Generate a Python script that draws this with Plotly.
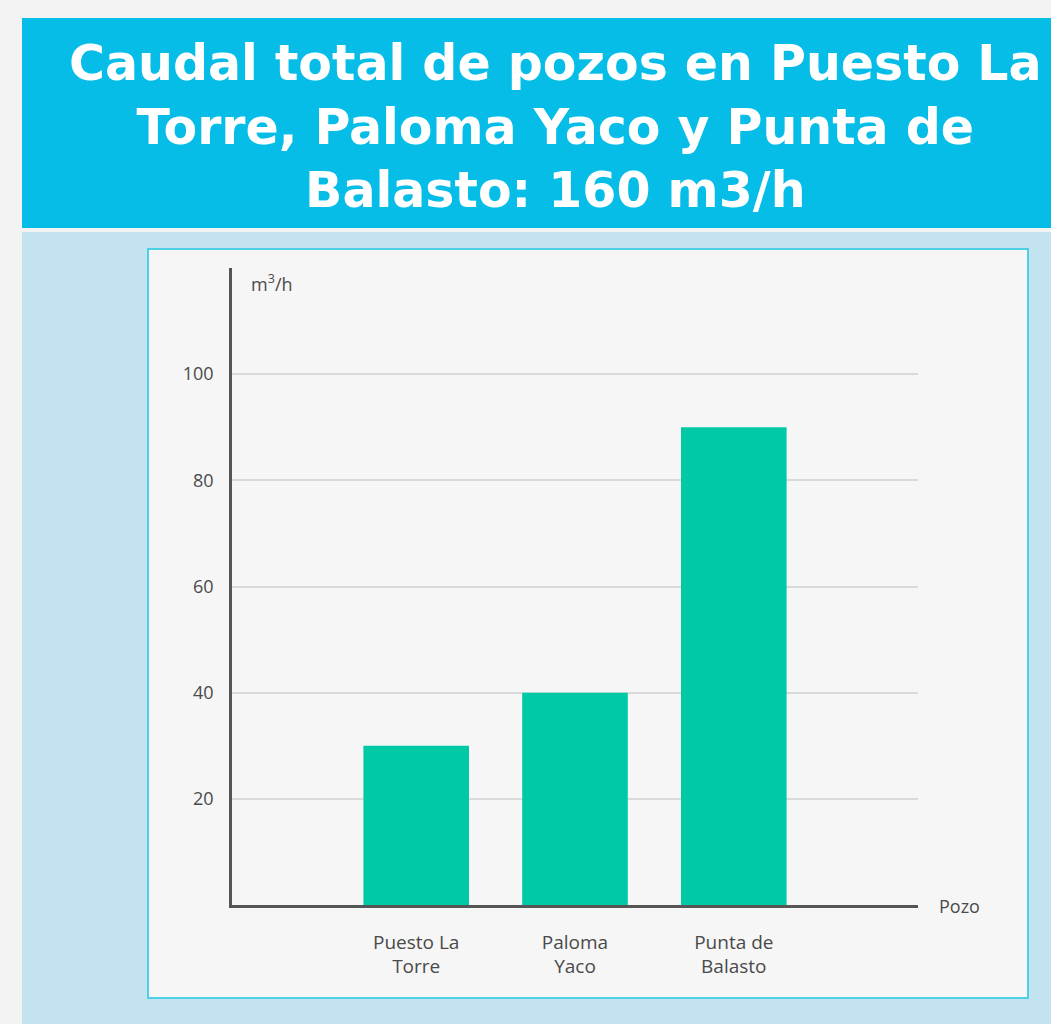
import plotly.graph_objects as go

# ---- data ----
categories = ["Puesto La Torre", "Paloma Yaco", "Punta de Balasto"]
tick_labels = ["Puesto La<br>Torre", "Paloma<br>Yaco", "Punta de<br>Balasto"]
caudal = [30, 40, 90]
y_ticks = [20, 40, 60, 80, 100]
title_text = "Caudal total de pozos en Puesto La<br>Torre, Paloma Yaco y Punta de<br>Balasto: 160 m3/h"

W, H = 1051, 1024

def px(x):
    return x / W

def py(y):
    return 1 - y / H

fig = go.Figure()
fig.add_trace(go.Bar(
    x=list(range(len(categories))),
    y=caudal,
    width=0.665,
    marker=dict(color="#00C9A6", line=dict(width=0)),
    hovertext=categories,
    showlegend=False,
))

shapes = [
    # title band
    dict(type="rect", xref="paper", yref="paper", x0=px(22), x1=px(1051), y0=py(228), y1=py(18),
         fillcolor="#05BDE7", line=dict(width=0), layer="below"),
    # light blue panel
    dict(type="rect", xref="paper", yref="paper", x0=px(22), x1=px(1051), y0=py(1024), y1=py(232),
         fillcolor="#C4E3F1", line=dict(width=0), layer="below"),
    # inner chart card
    dict(type="rect", xref="paper", yref="paper", x0=px(148), x1=px(1028), y0=py(998), y1=py(249),
         fillcolor="#F6F6F6", line=dict(color="#4DCFE6", width=2), layer="below"),
]

label_font = dict(family="Open Sans", size=18, color="#4A4A4A")

annotations = [
    dict(text="<b>" + title_text + "</b>", xref="paper", yref="paper", x=px(555), y=py(127),
         xanchor="center", yanchor="middle", showarrow=False, align="center",
         font=dict(family="DejaVu Sans", size=49, color="white")),
    dict(text="m<sup>3</sup>/h", xref="paper", yref="paper", x=px(249), y=py(283),
         xanchor="left", yanchor="middle", showarrow=False, font=label_font),
    dict(text="Pozo", xref="paper", yref="paper", x=px(937), y=py(906),
         xanchor="left", yanchor="middle", showarrow=False, font=label_font),
]

fig.update_layout(
    width=W, height=H,
    margin=dict(l=0, r=0, t=0, b=0),
    paper_bgcolor="#F3F3F3",
    plot_bgcolor="rgba(0,0,0,0)",
    shapes=shapes,
    annotations=annotations,
    bargap=0.33,
    xaxis=dict(
        domain=[px(232), px(918)],
        range=[-1.16, 3.16],
        tickmode="array",
        tickvals=list(range(len(categories))),
        ticktext=tick_labels,
        showgrid=False, zeroline=False,
        showline=True, linecolor="#555555", linewidth=2.5,
        ticks="", ticklabelstandoff=18,
        tickfont=dict(family="Open Sans", size=19, color="#4A4A4A"),
        fixedrange=True,
    ),
    yaxis=dict(
        domain=[py(905), py(268)],
        range=[0, 120],
        tickmode="array",
        tickvals=y_ticks,
        ticktext=[str(v) for v in y_ticks],
        showgrid=True, gridcolor="#DADADA", gridwidth=2,
        zeroline=False,
        showline=True, linecolor="#555555", linewidth=2.5,
        ticks="", ticklabelstandoff=12,
        tickfont=label_font,
        fixedrange=True,
    ),
)

fig.write_html(
    "out.html",
    config={"displayModeBar": False},
    post_script="document.body.style.margin='0';document.body.style.background='#F3F3F3';",
)
